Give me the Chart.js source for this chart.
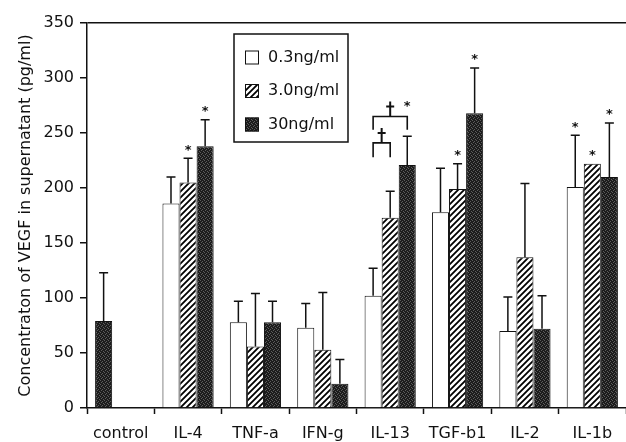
<!DOCTYPE html>
<html>
<head>
<meta charset="utf-8">
<script src="https://cdn.jsdelivr.net/npm/chart.js@4.4.1/dist/chart.umd.min.js"></script>
<style>
  html, body { margin: 0; padding: 0; background: #fff; }
  #wrap { width: 626px; height: 442px; }
</style>
</head>
<body>
<div id="wrap"><canvas id="vegfChart" width="626" height="442"></canvas></div>
<script>
/* VEGF in supernatant after cytokine stimulation, three doses per cytokine */
const categories = ["control", "IL-4", "TNF-a", "IFN-g", "IL-13", "TGF-b1", "IL-2", "IL-1b"];
const doseLabels = ["0.3ng/ml", "3.0ng/ml", "30ng/ml"];

// first slot of the low-dose series carries the unstimulated control
const lowDose  = [79, 186, 78, 73, 102, 178, 70, 201];
const midDose  = [null, 205, 56, 53, 173, 199, 137, 222];
const highDose = [null, 238, 78, 22, 221, 268, 72, 210];

// upper error (SD) for each bar
const lowErr  = [44, 24, 19, 22, 25, 40, 31, 47];
const midErr  = [0, 22, 48, 52, 24, 23, 67, 0];
const highErr = [0, 24, 19, 22, 26, 41, 30, 49];

const yMin = 0, yMax = 350, yStep = 50;

// significance marks: [category, dose, optional level]
const stars = [[1, 1], [1, 2], [4, 2, 277], [5, 1], [5, 2], [7, 0], [7, 1], [7, 2]];
// bracket marks between two doses: [category, doseA, doseB, level, foot]
const brackets = [[4, 0, 1, 241, 228], [4, 0, 2, 265, 253]];

const FONT = "'DejaVu Sans', 'Liberation Sans', sans-serif";
const INK = "#111";

/* fills: plain white, diagonal hatch, dark stipple */
function makeHatch() {
  const c = document.createElement("canvas");
  c.width = 6; c.height = 6;
  const g = c.getContext("2d");
  g.fillStyle = "#fff"; g.fillRect(0, 0, 6, 6);
  g.strokeStyle = "#000"; g.lineWidth = 1.8;
  g.beginPath();
  g.moveTo(-1, 7); g.lineTo(7, -1);
  g.moveTo(-4, 4); g.lineTo(4, -4);
  g.moveTo(2, 10); g.lineTo(10, 2);
  g.stroke();
  return g.createPattern(c, "repeat");
}
function makeStipple() {
  const c = document.createElement("canvas");
  c.width = 4; c.height = 4;
  const g = c.getContext("2d");
  g.fillStyle = "#1c1c1c"; g.fillRect(0, 0, 4, 4);
  g.fillStyle = "#5c5c5c";
  [[0,0],[2,1],[1,2],[3,3]].forEach(p => g.fillRect(p[0], p[1], 1, 1));
  return g.createPattern(c, "repeat");
}
const hatchFill = makeHatch();
const darkFill = makeStipple();
const doseFills = ["#fff", hatchFill, darkFill];

const errs = [lowErr, midErr, highErr];

/* whiskers with caps above each bar */
const errorBars = {
  id: "errorBars",
  afterDatasetsDraw(chart) {
    const { ctx, scales: { y } } = chart;
    ctx.save();
    ctx.strokeStyle = INK;
    ctx.lineWidth = 1.5;
    chart.data.datasets.forEach((ds, i) => {
      chart.getDatasetMeta(i).data.forEach((bar, j) => {
        const v = ds.data[j], e = errs[i][j];
        if (v == null || !e) return;
        const top = y.getPixelForValue(v + e);
        ctx.beginPath();
        ctx.moveTo(bar.x, bar.y);
        ctx.lineTo(bar.x, top);
        ctx.moveTo(bar.x - 4.5, top);
        ctx.lineTo(bar.x + 4.5, top);
        ctx.stroke();
      });
    });
    ctx.restore();
  }
};

/* asterisks and dagger brackets */
const sigMarks = {
  id: "sigMarks",
  afterDatasetsDraw(chart) {
    const { ctx, scales: { y } } = chart;
    ctx.save();
    ctx.fillStyle = INK;
    ctx.font = "bold 13px " + FONT;
    ctx.textAlign = "center";
    ctx.textBaseline = "middle";
    stars.forEach(s => {
      const [cat, dose, level] = s;
      const bar = chart.getDatasetMeta(dose).data[cat];
      const v = chart.data.datasets[dose].data[cat];
      let yy;
      if (level != null) yy = y.getPixelForValue(level);
      else yy = y.getPixelForValue(v + errs[dose][cat]) - 11;
      ctx.fillText("*", bar.x, yy + 3);
    });
    ctx.strokeStyle = INK;
    ctx.lineWidth = 1.6;
    brackets.forEach(b => {
      const [cat, a, c, level, foot] = b;
      const xa = chart.getDatasetMeta(a).data[cat].x;
      const xc = chart.getDatasetMeta(c).data[cat].x;
      const yl = y.getPixelForValue(level), yf = y.getPixelForValue(foot);
      ctx.beginPath();
      ctx.moveTo(xa, yf); ctx.lineTo(xa, yl); ctx.lineTo(xc, yl); ctx.lineTo(xc, yf);
      ctx.stroke();
      // dagger
      const xm = (xa + xc) / 2;
      ctx.beginPath();
      ctx.lineWidth = 2;
      ctx.moveTo(xm, yl); ctx.lineTo(xm, yl - 15);
      ctx.moveTo(xm - 4, yl - 10); ctx.lineTo(xm + 4, yl - 10);
      ctx.stroke();
      ctx.lineWidth = 1.6;
    });
    ctx.restore();
  }
};

/* boxed legend inside the plot */
const boxLegend = {
  id: "boxLegend",
  afterDraw(chart) {
    const { ctx, chartArea } = chart;
    const bx = chartArea.left + 147, by = chartArea.top + 11;
    ctx.save();
    ctx.fillStyle = "#fff";
    ctx.fillRect(bx, by, 114, 108);
    ctx.strokeStyle = INK;
    ctx.lineWidth = 1.5;
    ctx.strokeRect(bx, by, 114, 108);
    ctx.font = "16px " + FONT;
    ctx.textBaseline = "middle";
    doseLabels.forEach((lab, i) => {
      const cy = by + 23.5 + i * 33.5;
      ctx.fillStyle = doseFills[i];
      ctx.fillRect(bx + 11, cy - 7, 14, 14);
      ctx.lineWidth = 1;
      ctx.strokeRect(bx + 11.5, cy - 6.5, 13, 13);
      ctx.fillStyle = INK;
      ctx.fillText(lab, bx + 34, cy);
    });
    ctx.restore();
  }
};

const datasets = [lowDose, midDose, highDose].map((d, i) => ({
  label: doseLabels[i],
  data: d,
  backgroundColor: i === 0 ? (c => c.dataIndex === 0 ? darkFill : "#fff") : doseFills[i],
  borderColor: INK,
  borderWidth: 1,
  barPercentage: 1.0,
  categoryPercentage: 0.76
}));

new Chart(document.getElementById("vegfChart"), {
  type: "bar",
  data: { labels: categories, datasets: datasets },
  options: {
    responsive: false,
    devicePixelRatio: 1,
    animation: false,
    layout: { padding: { top: 23, right: 0, left: 0, bottom: 0 } },
    plugins: { legend: { display: false }, tooltip: { enabled: false } },
    scales: {
      x: {
        grid: { display: true, offset: true, drawOnChartArea: false, color: "rgba(0,0,0,0)", tickColor: INK, tickLength: 6, tickWidth: 1.5 },
        border: { display: true, color: INK, width: 1.5 },
        ticks: { color: INK, font: { family: FONT, size: 16 }, padding: 10, maxRotation: 0 },
        afterFit(scale) { scale.height = 34; }
      },
      y: {
        min: yMin, max: yMax,
        grid: {
          drawOnChartArea: true,
          color: c => c.tick && c.tick.value === yMax ? INK : "rgba(0,0,0,0)",
          lineWidth: 1.5,
          tickColor: INK, tickLength: 7, tickWidth: 1.5
        },
        border: { display: true, color: INK, width: 1.5 },
        ticks: { stepSize: yStep, color: INK, font: { family: FONT, size: 16 }, padding: 6 },
        title: {
          display: true,
          text: "Concentraton of VEGF in supernatant (pg/ml)",
          color: INK,
          font: { family: FONT, size: 16 },
          padding: { top: 16, bottom: 0 }
        },
        afterFit(scale) { scale.width = 87; }
      }
    }
  },
  plugins: [errorBars, sigMarks, boxLegend]
});
</script>
</body>
</html>
